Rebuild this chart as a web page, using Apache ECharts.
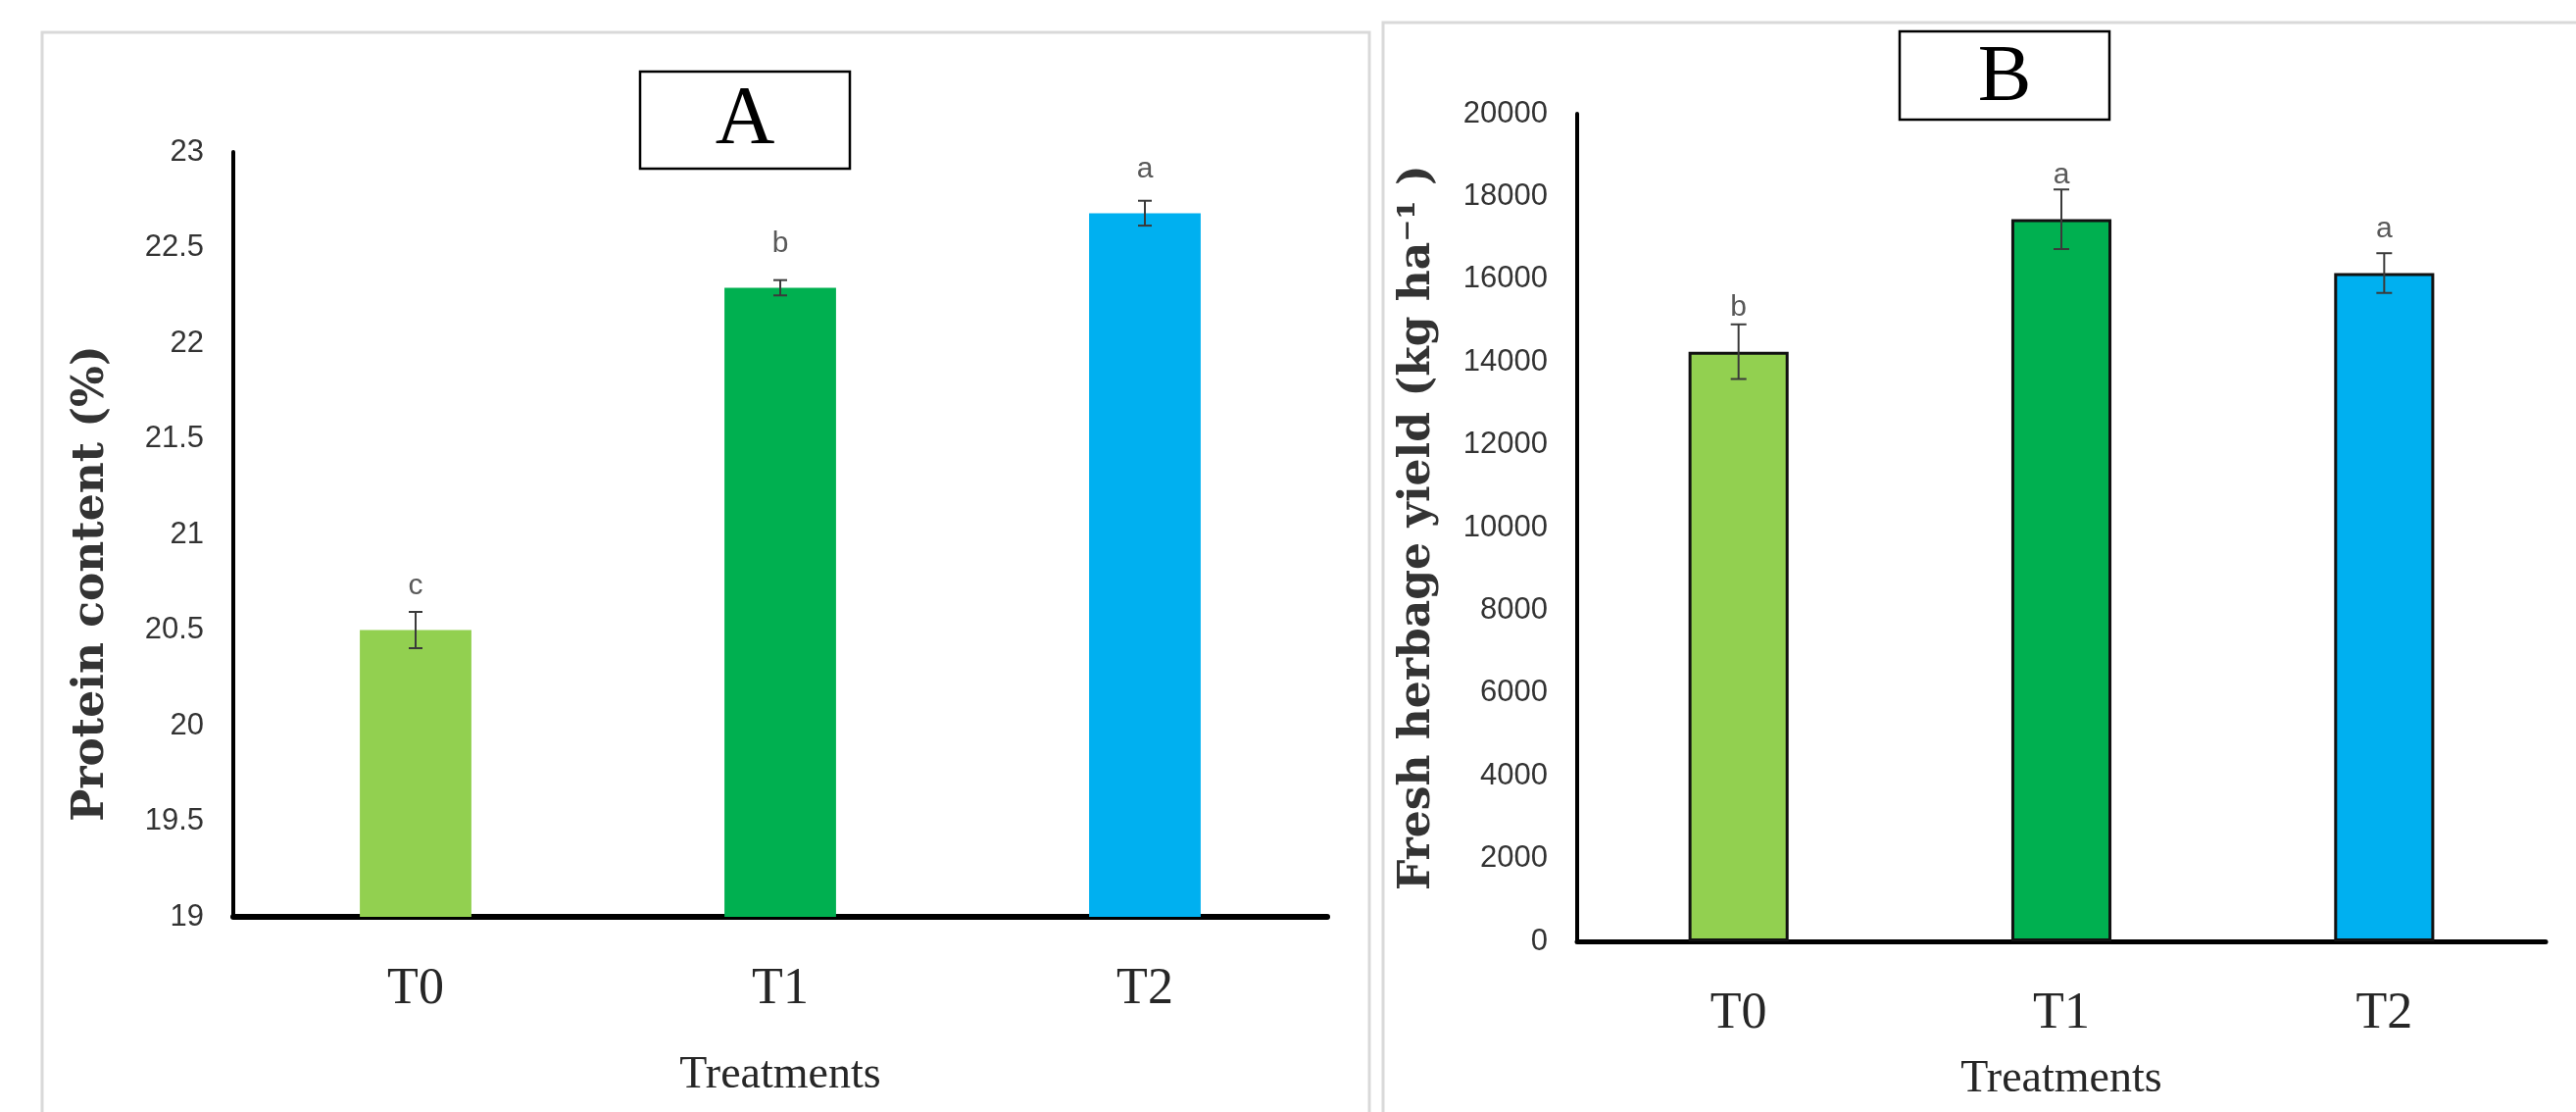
<!DOCTYPE html>
<html>
<head>
<meta charset="utf-8">
<script src="https://cdn.jsdelivr.net/npm/echarts@6/dist/echarts.min.js"></script>
<style>
  html, body { margin: 0; padding: 0; background: #fff; }
  #chart { width: 2628px; height: 1134px; }
</style>
</head>
<body>
<div id="chart"></div>
<script>
// categories and bar colours (Excel standard palette)
const treatments = ["T0", "T1", "T2"];
const barColors = ["#92d050", "#00b050", "#00b0f0"];

// panel A: protein content (%)
const proteinMean = [20.5, 22.29, 22.68];
const proteinErr = [0.095, 0.04, 0.065];
const proteinLetters = ["c", "b", "a"];
const proteinAxis = { min: 19, max: 23, interval: 0.5 };

// panel B: fresh herbage yield (kg/ha)
const yieldMean = [14250, 17450, 16150];
const yieldErr = [660, 720, 480];
const yieldLetters = ["b", "a", "a"];
const yieldAxis = { min: 0, max: 20000, interval: 2000 };

const sans = '"Liberation Sans", Arial, sans-serif';
const serif = '"Liberation Serif", "DejaVu Serif", serif';
const boldSerif = '"DejaVu Serif", "Liberation Serif", serif';

const chart = echarts.init(document.getElementById("chart"));

function barSeries(idx, means, letters, bordered) {
  return {
    type: "bar",
    xAxisIndex: idx,
    yAxisIndex: idx,
    barWidth: bordered ? "31%" : "30.6%",
    data: means.map((v, i) => ({
      value: v,
      itemStyle: {
        color: barColors[i],
        borderColor: bordered ? "#111" : "transparent",
        borderWidth: bordered ? 3 : 0,
      },
    })),
    label: {
      show: true,
      position: "top",
      distance: 30,
      formatter: (p) => letters[p.dataIndex],
      fontFamily: sans,
      fontSize: 30,
      color: "#595959",
    },
  };
}

function errorSeries(idx, means, errs, cap) {
  return {
    type: "custom",
    xAxisIndex: idx,
    yAxisIndex: idx,
    z: 10,
    data: means.map((m, i) => [i, m - errs[i], m + errs[i]]),
    renderItem: (params, api) => {
      const lo = api.coord([api.value(0), api.value(1)]);
      const hi = api.coord([api.value(0), api.value(2)]);
      const style = { stroke: "#3a3a3a", lineWidth: 2 };
      return {
        type: "group",
        children: [
          { type: "line", shape: { x1: lo[0], y1: lo[1], x2: hi[0], y2: hi[1] }, style },
          { type: "line", shape: { x1: lo[0] - cap, y1: lo[1], x2: lo[0] + cap, y2: lo[1] }, style },
          { type: "line", shape: { x1: hi[0] - cap, y1: hi[1], x2: hi[0] + cap, y2: hi[1] }, style },
        ],
      };
    },
  };
}

function xAxisFor(idx, nameGap, lineWidth) {
  return {
    type: "category",
    gridIndex: idx,
    data: treatments,
    name: "Treatments",
    nameLocation: "middle",
    nameGap: nameGap,
    nameTextStyle: { fontFamily: serif, fontSize: 46, color: "#262626" },
    axisLine: { lineStyle: { color: "#000", width: lineWidth } },
    axisTick: { show: false },
    axisLabel: { margin: 48, fontFamily: serif, fontSize: 52, color: "#262626" },
    splitLine: { show: false },
  };
}

function yAxisFor(idx, range, name, nameGap, padding) {
  return {
    type: "value",
    gridIndex: idx,
    min: range.min,
    max: range.max,
    interval: range.interval,
    name: name,
    nameLocation: "middle",
    nameRotate: 90,
    nameGap: nameGap,
    nameTextStyle: {
      fontFamily: boldSerif,
      fontWeight: "bold",
      fontSize: 44,
      color: "#333",
      padding: padding,
    },
    axisLine: { show: true, lineStyle: { color: "#000", width: 4 } },
    axisTick: { show: false },
    axisLabel: {
      margin: 30,
      fontFamily: sans,
      fontSize: 31,
      color: "#333",
      formatter: (v) => String(v),
    },
    splitLine: { show: false },
  };
}

const option = {
  backgroundColor: "#fff",
  animation: false,
  grid: [
    { left: 238, top: 155, width: 1116, height: 780, containLabel: false },
    { left: 1609, top: 116, width: 988, height: 844, containLabel: false },
  ],
  xAxis: [xAxisFor(0, 139, 6), xAxisFor(1, 118, 5)],
  yAxis: [
    yAxisFor(0, proteinAxis, "Protein content (%)", 122, [0, 100, 0, 0]),
    yAxisFor(1, yieldAxis, "Fresh herbage yield (kg ha\u207B\u00B9 )", 140, [0, 0, 0, 0]),
  ],
  series: [
    barSeries(0, proteinMean, proteinLetters, false),
    errorSeries(0, proteinMean, proteinErr, 7),
    barSeries(1, yieldMean, yieldLetters, true),
    errorSeries(1, yieldMean, yieldErr, 8),
  ],
  graphic: [
    // panel frames
    { type: "rect", shape: { x: 43, y: 33, width: 1354, height: 1120 },
      style: { fill: "none", stroke: "#d9d9d9", lineWidth: 3 }, silent: true },
    { type: "rect", shape: { x: 1411, y: 23, width: 1240, height: 1130 },
      style: { fill: "none", stroke: "#d9d9d9", lineWidth: 3 }, silent: true },
    // panel tags
    { type: "rect", shape: { x: 653, y: 73, width: 214, height: 99 },
      style: { fill: "#fff", stroke: "#000", lineWidth: 2.5 } },
    { type: "text", x: 760, y: 124,
      style: { text: "A", fontFamily: serif, fontSize: 84, fill: "#000", align: "center", verticalAlign: "middle" } },
    { type: "rect", shape: { x: 1938, y: 32, width: 214, height: 90 },
      style: { fill: "#fff", stroke: "#000", lineWidth: 2.5 } },
    { type: "text", x: 2045, y: 80,
      style: { text: "B", fontFamily: serif, fontSize: 82, fill: "#000", align: "center", verticalAlign: "middle" } },
  ],
};

chart.setOption(option);
window.addEventListener("resize", () => chart.resize());
</script>
</body>
</html>
